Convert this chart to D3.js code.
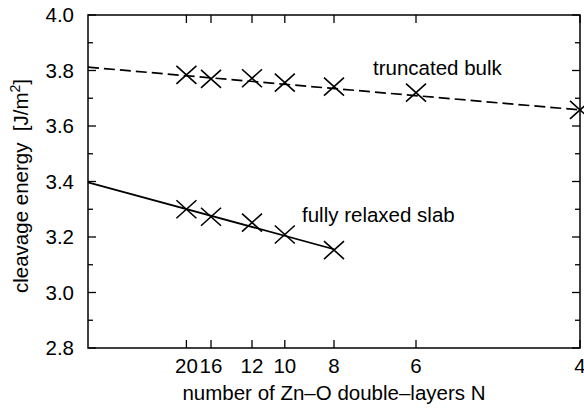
<!DOCTYPE html>
<html>
<head>
<meta charset="utf-8">
<script src="https://cdn.jsdelivr.net/npm/d3@7"></script>
<style>
  body { margin: 0; background: #fff; }
  svg text { font-family: "Liberation Sans", Arial, Helvetica, sans-serif; fill: #000; white-space: pre; }
</style>
</head>
<body>
<svg id="chart" width="584" height="409"></svg>
<script>
// ===== DATA =====
const bulkN = [20, 16, 12, 10, 8, 6, 4];
const bulkE = [3.784, 3.770, 3.772, 3.756, 3.742, 3.720, 3.658];
const slabN = [20, 16, 12, 10, 8];
const slabE = [3.300, 3.273, 3.252, 3.209, 3.153];
// linear fits vs 1/N, end points
const bulkFitInvN = [0, 0.25];
const bulkFitE = [3.812, 3.658];
const slabFitInvN = [0, 0.125];
const slabFitE = [3.397, 3.156];
const xTickN = [20, 16, 12, 10, 8, 6, 4];
const yMajor = [2.8, 3.0, 3.2, 3.4, 3.6, 3.8, 4.0];
const yMinor = [2.9, 3.1, 3.3, 3.5, 3.7, 3.9];

// ===== CHART =====
const svg = d3.select('#chart');
const box = { left: 88, right: 580, top: 15, bottom: 348 };

const x = d3.scaleLinear().domain([0, 0.25]).range([box.left, box.right]);
const y = d3.scaleLinear().domain([2.8, 4.0]).range([box.bottom, box.top]);

const g = svg.append('g');
const fontSize = 20.5;

// ticks (inward, all four sides)
const tickLen = 8, minorLen = 5;
xTickN.forEach(n => {
    const px = x(1 / n);
    g.append('line').attr('x1', px).attr('x2', px).attr('y1', box.bottom).attr('y2', box.bottom - tickLen);
    g.append('line').attr('x1', px).attr('x2', px).attr('y1', box.top).attr('y2', box.top + tickLen);
    g.append('text')
        .attr('x', px).attr('y', 373)
        .attr('text-anchor', 'middle')
        .style('font-size', fontSize + 'px')
        .text(n);
});
yMajor.forEach(v => {
    const py = y(v);
    g.append('line').attr('x1', box.left).attr('x2', box.left + tickLen).attr('y1', py).attr('y2', py);
    g.append('line').attr('x1', box.right).attr('x2', box.right - tickLen).attr('y1', py).attr('y2', py);
    g.append('text')
        .attr('x', 74).attr('y', py)
        .attr('dy', '0.36em')
        .attr('text-anchor', 'end')
        .style('font-size', fontSize + 'px')
        .text(v.toFixed(1));
});
yMinor.forEach(v => {
    const py = y(v);
    g.append('line').attr('x1', box.left).attr('x2', box.left + minorLen).attr('y1', py).attr('y2', py);
    g.append('line').attr('x1', box.right).attr('x2', box.right - minorLen).attr('y1', py).attr('y2', py);
});
g.selectAll('line').attr('stroke', '#000').attr('stroke-width', 1.3);

// frame
g.append('rect')
    .attr('x', box.left).attr('y', box.top)
    .attr('width', box.right - box.left).attr('height', box.bottom - box.top)
    .attr('fill', 'none').attr('stroke', '#000').attr('stroke-width', 1.5);

// fit lines
const line = d3.line().x(d => x(d[0])).y(d => y(d[1]));
g.append('path')
    .datum(d3.zip(bulkFitInvN, bulkFitE))
    .attr('d', line)
    .attr('fill', 'none').attr('stroke', '#000').attr('stroke-width', 1.7)
    .attr('stroke-dasharray', '11,5');
g.append('path')
    .datum(d3.zip(slabFitInvN, slabFitE))
    .attr('d', line)
    .attr('fill', 'none').attr('stroke', '#000').attr('stroke-width', 1.7);

// cross markers
const cw = 10, ch = 9;
function drawCrosses(ns, es) {
    d3.zip(ns, es).forEach(([n, e]) => {
        const px = x(1 / n), py = y(e);
        g.append('path')
            .attr('d', `M${px - cw},${py - ch}L${px + cw},${py + ch}M${px - cw},${py + ch}L${px + cw},${py - ch}`)
            .attr('stroke', '#000').attr('stroke-width', 1.6).attr('fill', 'none');
    });
}
drawCrosses(bulkN, bulkE);
drawCrosses(slabN, slabE);

// labels
g.append('text').attr('x', 373).attr('y', 75)
    .style('font-size', fontSize + 'px').text('truncated bulk');
g.append('text').attr('x', 302).attr('y', 222)
    .style('font-size', fontSize + 'px').text('fully relaxed slab');

// axis titles
g.append('text')
    .attr('x', 334).attr('y', 400)
    .attr('text-anchor', 'middle')
    .style('font-size', fontSize + 'px')
    .text('number of Zn\u2013O double\u2013layers N');

const yt = g.append('text')
    .attr('transform', 'translate(28,186) rotate(-90)')
    .attr('text-anchor', 'middle')
    .style('font-size', fontSize + 'px');
yt.append('tspan').text('cleavage energy  [J/m');
yt.append('tspan').attr('dy', -8).style('font-size', '14px').text('2');
yt.append('tspan').attr('dy', 8).text(']');
</script>
</body>
</html>
